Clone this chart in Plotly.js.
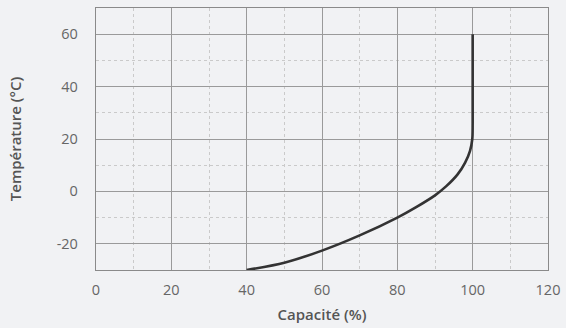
<!DOCTYPE html>
<html><head><meta charset="utf-8">
<script src="https://cdn.plot.ly/plotly-3.0.1.min.js"></script>
<style>html,body{margin:0;padding:0;background:#f1f2f4;}</style>
</head><body>
<div id="chart" style="width:566px;height:328px;"></div>
<script>
const capacity = [40, 50, 60, 70, 80, 85, 90, 93, 96, 98, 99.3, 99.9, 100, 100];
const temperature = [-30, -27.2, -22.6, -16.8, -10, -6, -1.5, 2, 6.5, 11, 15.5, 20, 26, 60];
const xTicks = [0, 20, 40, 60, 80, 100, 120];
const yTicks = [-20, 0, 20, 40, 60];

const trace = {
  x: capacity, y: temperature, type: 'scatter', mode: 'lines',
  line: {color: '#333333', width: 2.6, shape: 'spline', smoothing: 0.8},
  hoverinfo: 'skip'
};
const fontFam = '"Open Sans", sans-serif';
const axisCommon = {
  showline: true, mirror: true, linecolor: '#8a8a8a', linewidth: 1.2,
  showgrid: true, gridcolor: '#9a9a9a', gridwidth: 1,
  zeroline: false, ticks: '',
  tickfont: {family: fontFam, size: 14.5, color: '#666666'}
};
const layout = {
  width: 566, height: 328,
  margin: {l: 96, r: 18, t: 8, b: 58},
  paper_bgcolor: '#f1f2f4', plot_bgcolor: '#f1f2f4',
  showlegend: false,
  xaxis: Object.assign({}, axisCommon, {
    range: [0, 120], tickvals: xTicks, ticktext: xTicks.map(String),
    ticklabelstandoff: 6,
    minor: {dtick: 10, tick0: 0, showgrid: true, gridcolor: '#cacaca', griddash: 'dot', gridwidth: 1},
    title: {text: 'Capacité (%)', standoff: 12, font: {family: fontFam, size: 15, color: '#555555', weight: 600}}
  }),
  yaxis: Object.assign({}, axisCommon, {
    range: [-30, 70], tickvals: yTicks, ticktext: yTicks.map(String),
    ticklabelstandoff: 14,
    minor: {dtick: 10, tick0: 0, showgrid: true, gridcolor: '#cacaca', griddash: 'dot', gridwidth: 1},
    title: {text: 'Température (°C)', standoff: 31, font: {family: fontFam, size: 15, color: '#555555', weight: 600}}
  })
};
Plotly.newPlot('chart', [trace], layout, {displayModeBar: false, staticPlot: true});
</script>
</body></html>
